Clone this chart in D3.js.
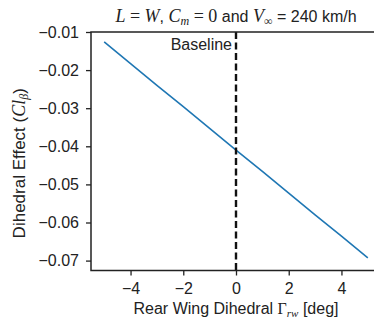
<!DOCTYPE html>
<html>
<head>
<meta charset="utf-8">
<script src="https://cdn.jsdelivr.net/npm/d3@7"></script>
<style>
  body { margin: 0; background: #fff; }
  text { font-family: "Liberation Sans", Arial, sans-serif; fill: #222; }
  .math { font-family: "Liberation Serif", "DejaVu Serif", serif; font-style: italic; }
</style>
</head>
<body>
<svg id="chart" width="374" height="320"></svg>
<script>
// data
const dihedral = [-5, -4, -3, -2, -1, 0, 1, 2, 3, 4, 5];
const clBeta = [-0.0126, -0.0183, -0.0240, -0.0296, -0.0353, -0.0410, -0.0466, -0.0523, -0.0580, -0.0636, -0.0693];
const xTicks = [-4, -2, 0, 2, 4];
const yTicks = [-0.07, -0.06, -0.05, -0.04, -0.03, -0.02, -0.01];
const baselineX = 0;

const svg = d3.select("#chart");
const margin = {left: 91, top: 32, right: 381, bottom: 270.5};
const fs = 16;
const mfs = 18; // math text runs a bit larger

const x = d3.scaleLinear().domain([-5.5, 5.5]).range([margin.left, margin.right]);
const y = d3.scaleLinear().domain([-0.0726, -0.01]).range([margin.bottom, margin.top]);

// line
svg.append("path")
  .datum(dihedral.map((d, i) => [d, clBeta[i]]))
  .attr("fill", "none")
  .attr("stroke", "#1f77b4")
  .attr("stroke-width", 1.6)
  .attr("d", d3.line().x(d => x(d[0])).y(d => y(d[1])));

// baseline
svg.append("line")
  .attr("x1", x(baselineX)).attr("x2", x(baselineX))
  .attr("y1", margin.top).attr("y2", margin.bottom)
  .attr("stroke", "#111")
  .attr("stroke-width", 2.4)
  .attr("stroke-dasharray", "7,3.5");

svg.append("text")
  .attr("x", x(baselineX) - 4)
  .attr("y", 50)
  .attr("text-anchor", "end")
  .attr("font-size", fs)
  .text("Baseline");

// axes
const xAxis = svg.append("g")
  .attr("transform", `translate(0,${margin.bottom})`)
  .call(d3.axisBottom(x).tickValues(xTicks).tickSize(5).tickPadding(7)
    .tickFormat(d => d < 0 ? "\u2212" + Math.abs(d) : d));
const yAxis = svg.append("g")
  .attr("transform", `translate(${margin.left},0)`)
  .call(d3.axisLeft(y).tickValues(yTicks).tickSize(5).tickPadding(7)
    .tickFormat(d => "\u2212" + Math.abs(d).toFixed(2)));
[xAxis, yAxis].forEach(a => {
  a.selectAll("text").attr("font-size", fs).attr("fill", "#222")
    .style("font-family", "'Liberation Sans', Arial, sans-serif");
  a.selectAll("line").attr("stroke", "#222").attr("stroke-width", 1.3);
  a.select(".domain").remove();
});

// spines
svg.append("path")
  .attr("d", `M${margin.right},${margin.top}H${margin.left}V${margin.bottom}H${margin.right}`)
  .attr("fill", "none").attr("stroke", "#222").attr("stroke-width", 1.5);

// title
const title = svg.append("text")
  .attr("x", (margin.left + margin.right) / 2)
  .attr("y", 22)
  .attr("text-anchor", "middle")
  .attr("font-size", fs);
title.append("tspan").attr("class", "math").attr("font-size", mfs).text("L");
title.append("tspan").attr("class", "math").attr("font-size", mfs).style("font-style", "normal").text(" = ");
title.append("tspan").attr("class", "math").attr("font-size", mfs).text("W");
title.append("tspan").text(", ");
title.append("tspan").attr("class", "math").attr("font-size", mfs).text("C");
title.append("tspan").attr("class", "math").attr("font-size", 12).attr("dy", 3).text("m");
title.append("tspan").attr("class", "math").attr("font-size", mfs).style("font-style", "normal").attr("dy", -3).text(" = 0");
title.append("tspan").text(" and ");
title.append("tspan").attr("class", "math").attr("font-size", mfs).text("V");
title.append("tspan").attr("class", "math").style("font-style", "normal").attr("font-size", 12).attr("dy", 3).text("\u221E");
title.append("tspan").attr("dy", -3).text(" = 240 km/h");

// x label
const xl = svg.append("text")
  .attr("x", (margin.left + margin.right) / 2)
  .attr("y", 314)
  .attr("text-anchor", "middle")
  .attr("font-size", fs);
xl.append("tspan").text("Rear Wing Dihedral ");
xl.append("tspan").attr("class", "math").style("font-style", "normal").text("\u0393");
xl.append("tspan").attr("class", "math").attr("font-size", 11).attr("dy", 3).text("rw");
xl.append("tspan").attr("dy", -3).text(" [deg]");

// y label
const yl = svg.append("text")
  .attr("transform", `translate(25,${(margin.top + margin.bottom) / 2 + 12}) rotate(-90)`)
  .attr("text-anchor", "middle")
  .attr("font-size", 17);
yl.append("tspan").text("Dihedral Effect (");
yl.append("tspan").attr("class", "math").attr("font-size", mfs).text("Cl");
yl.append("tspan").attr("class", "math").attr("font-size", 12).attr("dy", 3).text("\u03B2");
yl.append("tspan").attr("dy", -3).text(")");
</script>
</body>
</html>
